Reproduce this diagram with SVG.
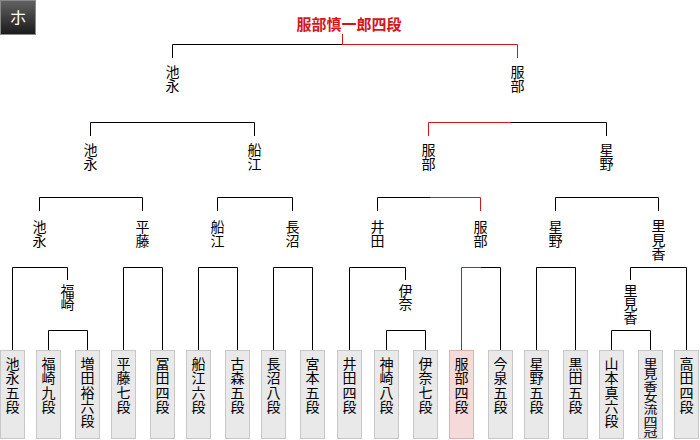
<svg xmlns="http://www.w3.org/2000/svg" width="700" height="440" viewBox="0 0 700 440">
<defs>
<linearGradient id="hg" x1="0" y1="0" x2="0" y2="1">
<stop offset="0" stop-color="#626262"/>
<stop offset="1" stop-color="#1a1a1a"/>
</linearGradient>
</defs>
<style>
.ln{stroke:#000;stroke-width:1;fill:none}
.rd{stroke:#d9141b;stroke-width:1;fill:none}
.bx{fill:#e9e9e9;stroke:#c8c8c8;stroke-width:1}
.hb{fill:#f5dada;stroke:#dab4b4;stroke-width:1}
text{font-family:"Noto Sans CJK JP","Noto Sans CJK SC",sans-serif;font-size:14px;text-anchor:middle;fill:#000}
.ttl{font-size:15px;font-weight:bold;fill:#d6141b}
.hd{font-size:17px;fill:#fff}
</style>
<rect width="700" height="440" fill="#fff"/>
<g id="corner">
<rect x="0.5" y="0.5" width="35" height="34" fill="url(#hg)" stroke="#8a8a8a"/>
<text class="hd" x="18" y="24">ホ</text>
</g>
<g id="champion"><text class="ttl" x="349" y="30">服部慎一郎四段</text></g>
<g id="connectors">
<path class="ln" d="M172.5 58V44.5H342.5"/>
<path class="rd" d="M342.5 34V44.5H517.5V58"/>
<path class="ln" d="M90.5 136V122.5H254.5V136"/>
<path class="rd" d="M428.5 136V122.5H511"/>
<path class="ln" d="M511 122.5H606.5V136"/>
<path class="ln" d="M39.5 211V197.5H142.5V211"/>
<path class="ln" d="M217.5 211V197.5H292.5V211"/>
<path class="ln" d="M377.5 211V197.5H430"/>
<path class="rd" d="M430 197.5H480.5V211"/>
<path class="ln" d="M555.5 211V197.5H658.5V211"/>
<path class="ln" d="M12.5 350V267.5H67.5V280"/>
<path class="ln" d="M48.5 350V330.5H87.5V350"/>
<path class="ln" d="M123.5 350V267.5H162.5V350"/>
<path class="ln" d="M198.5 350V267.5H237.5V350"/>
<path class="ln" d="M273.5 350V267.5H312.5V350"/>
<path class="ln" d="M349.5 350V267.5H405.5V280"/>
<path class="ln" d="M386.5 350V330.5H425.5V350"/>
<path class="rd" d="M461.5 350V267.5H481"/>
<path class="ln" d="M481 267.5H500.5V350"/>
<path class="ln" d="M536.5 350V267.5H575.5V350"/>
<path class="ln" d="M630.5 280V267.5H686.5V350"/>
<path class="ln" d="M611.5 350V330.5H650.5V350"/>
</g>
<g id="w-final-l"><text x="172.5 172.5" y="76.5 90.5">池永</text></g>
<g id="w-final-r"><text x="517.5 517.5" y="76.5 90.5">服部</text></g>
<g id="w-sf-1"><text x="90.5 90.5" y="155 168.5">池永</text></g>
<g id="w-sf-2"><text x="254.5 254.5" y="155 168.5">船江</text></g>
<g id="w-sf-3"><text x="428.5 428.5" y="155 168.5">服部</text></g>
<g id="w-sf-4"><text x="606.5 606.5" y="155 168.5">星野</text></g>
<g id="w-qf-1"><text x="39.5 39.5" y="231.5 245.5">池永</text></g>
<g id="w-qf-2"><text x="142.5 142.5" y="231.5 245.5">平藤</text></g>
<g id="w-qf-3"><text x="217.5 217.5" y="231.5 245.5">船江</text></g>
<g id="w-qf-4"><text x="292.5 292.5" y="231.5 245.5">長沼</text></g>
<g id="w-qf-5"><text x="377.5 377.5" y="231.5 245.5">井田</text></g>
<g id="w-qf-6"><text x="480.5 480.5" y="231.5 245.5">服部</text></g>
<g id="w-qf-7"><text x="555.5 555.5" y="231.5 245.5">星野</text></g>
<g id="w-qf-8"><text x="658.5 658.5 658.5" y="231 245 259">里見香</text></g>
<g id="w-r1-1"><text x="67.5 67.5" y="295.5 309">福崎</text></g>
<g id="w-r1-2"><text x="405.5 405.5" y="295.5 309">伊奈</text></g>
<g id="w-r1-3"><text x="630.5 630.5 630.5" y="295.5 309 322.5">里見香</text></g>
<g id="p01"><rect class="bx" x="0.5" y="350.5" width="24" height="88"/><text x="12.5 12.5 12.5 12.5" y="369 383.3 397.6 411.9">池永五段</text></g>
<g id="p02"><rect class="bx" x="36.5" y="350.5" width="24" height="88"/><text x="48.5 48.5 48.5 48.5" y="369 383.3 397.6 411.9">福崎九段</text></g>
<g id="p03"><rect class="bx" x="75.5" y="350.5" width="24" height="88"/><text x="87.5 87.5 87.5 87.5 87.5" y="369 383.3 397.6 411.9 426.2">増田裕六段</text></g>
<g id="p04"><rect class="bx" x="111.5" y="350.5" width="24" height="88"/><text x="123.5 123.5 123.5 123.5" y="369 383.3 397.6 411.9">平藤七段</text></g>
<g id="p05"><rect class="bx" x="150.5" y="350.5" width="24" height="88"/><text x="162.5 162.5 162.5 162.5" y="369 383.3 397.6 411.9">冨田四段</text></g>
<g id="p06"><rect class="bx" x="186.5" y="350.5" width="24" height="88"/><text x="198.5 198.5 198.5 198.5" y="369 383.3 397.6 411.9">船江六段</text></g>
<g id="p07"><rect class="bx" x="225.5" y="350.5" width="24" height="88"/><text x="237.5 237.5 237.5 237.5" y="369 383.3 397.6 411.9">古森五段</text></g>
<g id="p08"><rect class="bx" x="261.5" y="350.5" width="24" height="88"/><text x="273.5 273.5 273.5 273.5" y="369 383.3 397.6 411.9">長沼八段</text></g>
<g id="p09"><rect class="bx" x="300.5" y="350.5" width="24" height="88"/><text x="312.5 312.5 312.5 312.5" y="369 383.3 397.6 411.9">宮本五段</text></g>
<g id="p10"><rect class="bx" x="337.5" y="350.5" width="24" height="88"/><text x="349.5 349.5 349.5 349.5" y="369 383.3 397.6 411.9">井田四段</text></g>
<g id="p11"><rect class="bx" x="374.5" y="350.5" width="24" height="88"/><text x="386.5 386.5 386.5 386.5" y="369 383.3 397.6 411.9">神崎八段</text></g>
<g id="p12"><rect class="bx" x="413.5" y="350.5" width="24" height="88"/><text x="425.5 425.5 425.5 425.5" y="369 383.3 397.6 411.9">伊奈七段</text></g>
<g id="p13"><rect class="hb" x="449.5" y="350.5" width="24" height="88"/><text x="461.5 461.5 461.5 461.5" y="369 383.3 397.6 411.9">服部四段</text></g>
<g id="p14"><rect class="bx" x="488.5" y="350.5" width="24" height="88"/><text x="500.5 500.5 500.5 500.5" y="369 383.3 397.6 411.9">今泉五段</text></g>
<g id="p15"><rect class="bx" x="524.5" y="350.5" width="24" height="88"/><text x="536.5 536.5 536.5 536.5" y="369 383.3 397.6 411.9">星野五段</text></g>
<g id="p16"><rect class="bx" x="563.5" y="350.5" width="24" height="88"/><text x="575.5 575.5 575.5 575.5" y="369 383.3 397.6 411.9">黒田五段</text></g>
<g id="p17"><rect class="bx" x="599.5" y="350.5" width="24" height="88"/><text x="611.5 611.5 611.5 611.5 611.5" y="369 383.3 397.6 411.9 426.2">山本真六段</text></g>
<g id="p18"><rect class="bx" x="638.5" y="350.5" width="24" height="88"/>
<g transform="scale(1,0.82)"><text x="650.5 650.5 650.5 650.5 650.5 650.5 650.5" y="448.2 462.4 476.6 490.8 505 519.2 533.4">里見香女流四冠</text></g></g>
<g id="p19"><rect class="bx" x="674.5" y="350.5" width="24" height="88"/><text x="686.5 686.5 686.5 686.5" y="369 383.3 397.6 411.9">高田四段</text></g>
</svg>
